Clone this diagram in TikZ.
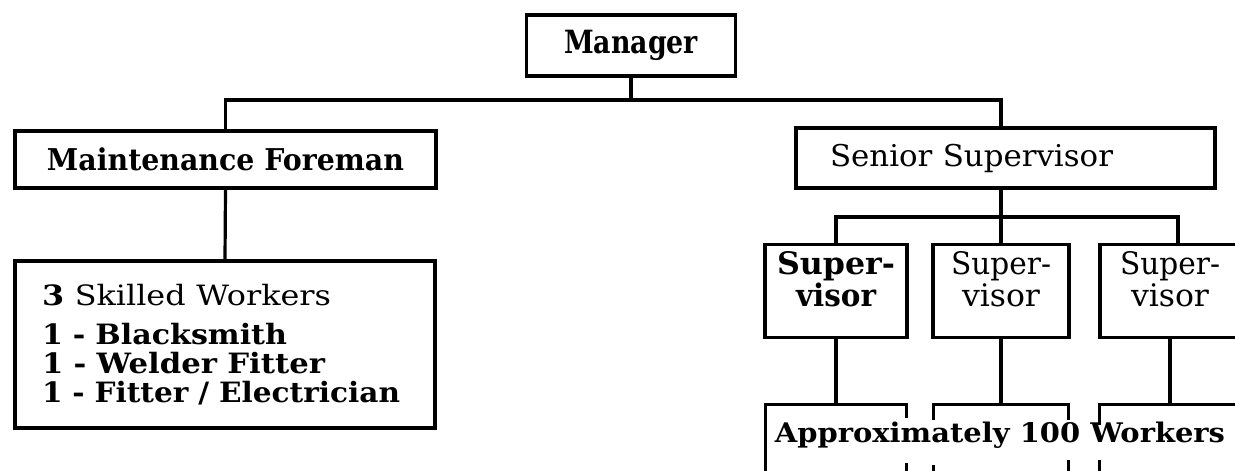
\documentclass[tikz,border=0pt]{standalone}
\usepackage{fontspec}
\setmainfont{DejaVu Serif}
\usepackage{graphicx}
% set a label to a given width, keeping its height
\newcommand\tw[2]{\resizebox{#1pt}{\height}{#2}}
\begin{document}
\begin{tikzpicture}[x=1pt,y=-1pt,
  box/.style={draw, line width=3.2pt, inner sep=0pt, line join=miter},
  supbox/.style={box, minimum height=93pt, align=center,
    font=\fontsize{31}{32}\selectfont},
  wbox/.style={inner sep=0pt, minimum height=73pt},
  wire/.style={line width=3.2pt, line join=miter},
]
\useasboundingbox (0,0) rectangle (1235,471);
\fill[white] (0,0) rectangle (1235,471);
\begin{scope}
\clip (0,0) rectangle (1235,471);

% top level
\node[box, minimum width=209pt, minimum height=61pt,
  font=\fontsize{32}{34}\selectfont\bfseries] (mgr) at (631,45.5) {\tw{134}{Manager}};

% maintenance branch
\node[box, minimum width=421pt, minimum height=57pt,
  font=\fontsize{30}{30}\selectfont\bfseries] (mf) at (225.5,159.5)
  {\tw{357}{Maintenance Foreman}};
\node[box, minimum width=420pt, minimum height=167pt, text width=366pt, align=left,
  font=\fontsize{28}{29}\selectfont\bfseries] (sw) at (225,344.5)
  {\tw{289}{3 \mdseries Skilled Workers}\\[10pt]
   \tw{245}{1 - Blacksmith}\\
   \tw{283}{1 - Welder Fitter}\\
   \tw{358}{1 - Fitter / Electrician}};

% production branch
\node[box, minimum width=419pt, minimum height=60pt, text width=351pt, align=left,
  font=\fontsize{30}{30}\selectfont] (ss) at (1005.5,158)
  {\tw{283}{Senior Supervisor}};

\node[supbox, minimum width=142pt, font=\fontsize{31}{32}\selectfont\bfseries] (s1) at (836,291)
  {\tw{118}{Super-}\\\tw{80}{visor}\rule[-24pt]{0pt}{24pt}};
\node[supbox, minimum width=136pt] (s2) at (1001,291)
  {\tw{100}{Super-}\\\tw{78}{visor}\rule[-24pt]{0pt}{24pt}};
\node[supbox, minimum width=140pt] (s3) at (1170,291)
  {\tw{100}{Super-}\\\tw{78}{visor}\rule[-24pt]{0pt}{24pt}};

% open worker boxes
\node[wbox, minimum width=140pt] (w1) at (836,441.5) {};
\node[wbox, minimum width=134pt] (w2) at (1001,441.5) {};
\node[wbox, minimum width=140pt] (w3) at (1170,441.5) {};
\node[anchor=base, inner sep=0pt, font=\fontsize{27}{28}\selectfont\bfseries] (wk) at (1000,442)
  {\tw{450}{Approximately 100 Workers}};

\draw[wire] (w1.south west) -- (w1.north west) -- (w1.north east) -- ++(0,13);
\draw[wire] (w1.south east) -- ++(0,-15);
\draw[wire] ([yshift=-15pt]w2.north west) -- (w2.north west) -- (w2.north east) -- ++(0,15);
\draw[wire] (w2.south west) -- ++(0,-13);
\draw[wire] (w2.south east) -- ++(0,-18);
\draw[wire] ([yshift=-20pt]w3.north west) -- (w3.north west) -- (w3.north east);
\draw[wire] (w3.south west) -- ++(0,-18);

% connectors
\coordinate (bus) at (631,100);
\coordinate (sb) at (1001,217);
\draw[wire] (mgr.south) -- (bus);
\draw[wire] (mf.north) |- (bus) -| ([xshift=-4.5pt]ss.north);
\draw[wire] (mf.south) -- (sw.north);
\draw[wire] (ss.south -| sb) -- (sb);
\draw[wire] (s1.north) |- (sb) -| ([xshift=8pt]s3.north);
\draw[wire] (s2.north) -- (sb);
\draw[wire] (s1.south) -- (w1.north);
\draw[wire] (s2.south) -- (w2.north);
\draw[wire] (s3.south) -- (w3.north);
\end{scope}
\end{tikzpicture}
\end{document}
